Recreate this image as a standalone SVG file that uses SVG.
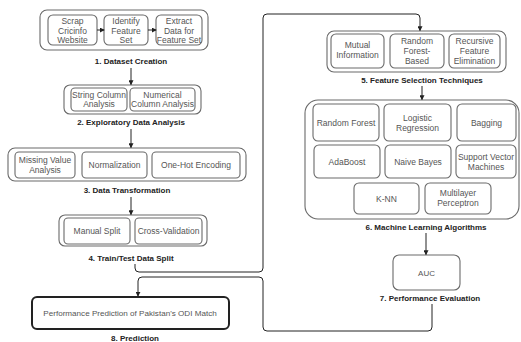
<svg xmlns="http://www.w3.org/2000/svg" width="521" height="342" viewBox="0 0 521 342">
<defs>
<marker id="ah" viewBox="0 0 6 6" refX="5" refY="3" markerWidth="5" markerHeight="5" orient="auto" markerUnits="userSpaceOnUse"><path d="M0,0 L6,3 L0,6 z" fill="#222"/></marker>
<style>
.o{fill:#fff;stroke:#6a6a6a;stroke-width:1.1}
.i{fill:#fff;stroke:#6a6a6a;stroke-width:1.1}
.t{font-family:"Liberation Sans",Arial,sans-serif;font-size:8.5px;fill:#555;text-anchor:middle}
.l{font-family:"Liberation Sans",Arial,sans-serif;font-size:8px;font-weight:bold;fill:#222;text-anchor:middle}
.c{fill:none;stroke:#555;stroke-width:1}
.a{fill:none;stroke:#222;stroke-width:1;marker-end:url(#ah)}
</style>
</defs>
<rect width="521" height="342" fill="#fff"/>

<g id="n1">
<rect class="o" x="40" y="10" width="168" height="40" rx="7"/>
<rect class="i" x="48" y="15" width="49" height="30" rx="5"/>
<text class="t" x="72.5" y="24">Scrap</text><text class="t" x="72.5" y="33.5">Cricinfo</text><text class="t" x="72.5" y="43">Website</text>
<rect class="i" x="104" y="15" width="44" height="30" rx="5"/>
<text class="t" x="126" y="24">Identify</text><text class="t" x="126" y="33.5">Feature</text><text class="t" x="126" y="43">Set</text>
<rect class="i" x="156" y="15" width="46" height="30" rx="5"/>
<text class="t" x="179" y="24">Extract</text><text class="t" x="179" y="33.5">Data for</text><text class="t" x="179" y="43">Feature Set</text>
<text class="l" x="131" y="64">1. Dataset Creation</text>
</g>

<g id="n2">
<rect class="o" x="64" y="85" width="137" height="29" rx="6"/>
<rect class="i" x="71" y="88" width="56" height="23" rx="4"/>
<text class="t" x="99" y="97.5">String Column</text><text class="t" x="99" y="107">Analysis</text>
<rect class="i" x="130" y="88" width="65" height="23" rx="4"/>
<text class="t" x="162.5" y="97.5">Numerical</text><text class="t" x="162.5" y="107">Column Analysis</text>
<text class="l" x="131" y="125">2. Exploratory Data Analysis</text>
</g>

<g id="n3">
<rect class="o" x="8" y="148" width="238" height="33" rx="7"/>
<rect class="i" x="15" y="152" width="60" height="26" rx="4"/>
<text class="t" x="45" y="162.5">Missing Value</text><text class="t" x="45" y="172.5">Analysis</text>
<rect class="i" x="82" y="152" width="65" height="26" rx="4"/>
<text class="t" x="114.5" y="168">Normalization</text>
<rect class="i" x="152" y="152" width="88" height="26" rx="4"/>
<text class="t" x="196" y="168">One-Hot Encoding</text>
<text class="l" x="127" y="193">3. Data Transformation</text>
</g>

<g id="n4">
<rect class="o" x="59" y="215" width="148" height="31" rx="6"/>
<rect class="i" x="64" y="218" width="66" height="26" rx="4"/>
<text class="t" x="97" y="234">Manual Split</text>
<rect class="i" x="135" y="218" width="67" height="26" rx="4"/>
<text class="t" x="168.5" y="234">Cross-Validation</text>
<text class="l" x="131" y="261">4. Train/Test Data Split</text>
</g>

<g id="n5">
<rect class="o" x="327" y="31" width="179" height="41" rx="7"/>
<rect class="i" x="331" y="34" width="53" height="34" rx="5"/>
<text class="t" x="357.5" y="48">Mutual</text><text class="t" x="357.5" y="58">Information</text>
<rect class="i" x="390" y="34" width="54" height="34" rx="5"/>
<text class="t" x="417" y="44">Random</text><text class="t" x="417" y="54">Forest-</text><text class="t" x="417" y="64">Based</text>
<rect class="i" x="449" y="34" width="51" height="34" rx="5"/>
<text class="t" x="474.5" y="44">Recursive</text><text class="t" x="474.5" y="54">Feature</text><text class="t" x="474.5" y="64">Elimination</text>
<text class="l" x="422" y="83">5. Feature Selection Techniques</text>
</g>

<g id="n6">
<rect class="o" x="305" y="100" width="214" height="119" rx="13"/>
<rect class="i" x="313" y="104" width="66" height="37" rx="5"/>
<text class="t" x="346" y="126">Random Forest</text>
<rect class="i" x="384" y="104" width="67" height="37" rx="5"/>
<text class="t" x="417.5" y="121">Logistic</text><text class="t" x="417.5" y="131">Regression</text>
<rect class="i" x="457" y="104" width="59" height="37" rx="5"/>
<text class="t" x="486.5" y="126">Bagging</text>
<rect class="i" x="314" y="145" width="66" height="33" rx="5"/>
<text class="t" x="347" y="165">AdaBoost</text>
<rect class="i" x="385" y="145" width="66" height="33" rx="5"/>
<text class="t" x="418" y="165">Naive Bayes</text>
<rect class="i" x="456" y="145" width="60" height="33" rx="5"/>
<text class="t" x="486" y="160">Support Vector</text><text class="t" x="486" y="170">Machines</text>
<rect class="i" x="354" y="183" width="65" height="31" rx="5"/>
<text class="t" x="386.5" y="202">K-NN</text>
<rect class="i" x="425" y="183" width="66" height="31" rx="5"/>
<text class="t" x="458" y="196">Multilayer</text><text class="t" x="458" y="206">Perceptron</text>
<text class="l" x="426" y="230">6. Machine Learning Algorithms</text>
</g>

<g id="n7">
<rect class="o" x="393" y="255" width="67" height="35" rx="6"/>
<text class="t" x="426.5" y="276" style="font-size:8px">AUC</text>
<text class="l" x="430" y="301">7. Performance  Evaluation</text>
</g>

<g id="n8">
<rect x="32" y="297" width="197" height="32" rx="5" fill="#fff" stroke="#222" stroke-width="2"/>
<text class="t" x="130" y="316" style="font-size:8.1px">Performance Prediction of Pakistan's ODI Match</text>
<text class="l" x="135" y="341">8. Prediction</text>
</g>

<g id="connectors">
<line class="a" x1="97" y1="30" x2="104" y2="30"/>
<line class="a" x1="148" y1="30" x2="156" y2="30"/>
<line class="a" x1="131" y1="68" x2="131" y2="84.5"/>
<line class="a" x1="131" y1="129" x2="131" y2="147.5"/>
<line class="a" x1="131" y1="197" x2="131" y2="214.5"/>
<path class="a" d="M135 264 V268 Q135 272 139 272 H259 Q263 272 263 268 V18 Q263 14 267 14 H416 Q420 14 420 18 V30.5"/>
<line class="a" x1="422" y1="86" x2="422" y2="99.5"/>
<line class="a" x1="426" y1="233" x2="426" y2="254.5"/>
<path class="a" d="M432 304 V327 Q432 331 428 331 H267 Q263 331 263 327 V281 Q263 277 259 277 H142 Q138 277 138 281 V296"/>
</g>
</svg>
